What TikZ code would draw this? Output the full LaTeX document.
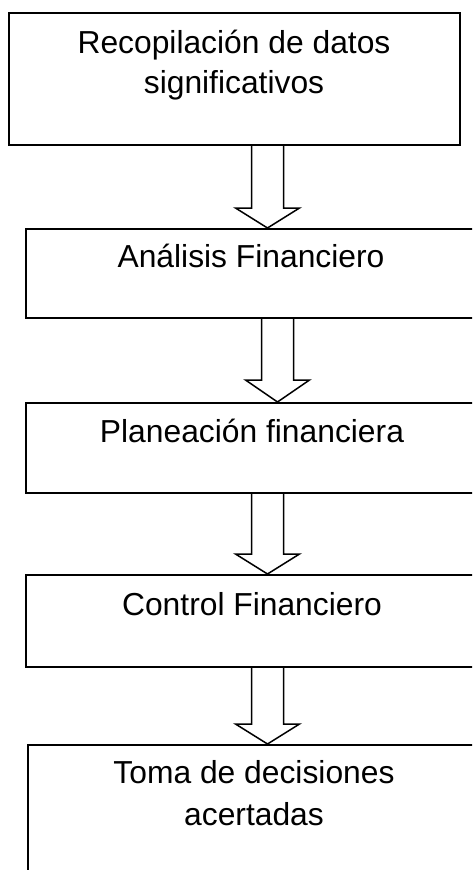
\documentclass[tikz,border=0pt]{standalone}
\usepackage{fontspec}
\setmainfont{Liberation Sans}
\usetikzlibrary{calc}
\begin{document}
\begin{tikzpicture}[x=1pt,y=-1pt,
  box/.style={draw, line width=1.5pt, inner sep=0pt, anchor=north west},
  lbl/.style={inner sep=0pt, align=center},
  blk/.style={draw, line width=1.5pt, line join=miter}]
\useasboundingbox (0,0) rectangle (472,870);
\clip (0,0) rectangle (472,870);
% boxes
\node[box, minimum width=451, minimum height=132] (b1) at (8,12) {};
\node[box, minimum width=475, minimum height=89] (b2) at (25,228) {};
\node[box, minimum width=475, minimum height=90] (b3) at (25,402) {};
\node[box, minimum width=475, minimum height=92] (b4) at (25,574) {};
\node[box, minimum width=473, minimum height=160] (b5) at (27,744) {};
% texts
\node[lbl, anchor=north, font=\fontsize{31.8}{40}\selectfont] (t1) at (234,29.5) {Recopilación de datos\\significativos};
\node[lbl, anchor=base, font=\fontsize{31.8}{40}\selectfont] (t2) at (251,267) {Análisis Financiero};
\node[lbl, anchor=base, font=\fontsize{31.8}{40}\selectfont] (t3) at (252,442) {Planeación financiera};
\node[lbl, anchor=base, font=\fontsize{31.8}{40}\selectfont] (t4) at (252,615) {Control Financiero};
\node[lbl, anchor=north, font=\fontsize{31.8}{42}\selectfont] (t5) at (254,760.5) {Toma de decisiones\\acertadas};
% block arrows
\draw[blk] (251.5,0 |- b1.south) -- ($(251.5,0 |- b2.north)+(0,-20)$) -- ($(235.5,0 |- b2.north)+(0,-20)$) -- (267.5,0 |- b2.north) -- ($(299.5,0 |- b2.north)+(0,-20)$) -- ($(283.5,0 |- b2.north)+(0,-20)$) -- (283.5,0 |- b1.south);
\draw[blk] (261.5,0 |- b2.south) -- ($(261.5,0 |- b3.north)+(0,-22)$) -- ($(245.5,0 |- b3.north)+(0,-22)$) -- (277.5,0 |- b3.north) -- ($(309.5,0 |- b3.north)+(0,-22)$) -- ($(293.5,0 |- b3.north)+(0,-22)$) -- (293.5,0 |- b2.south);
\draw[blk] (251.5,0 |- b3.south) -- ($(251.5,0 |- b4.north)+(0,-20)$) -- ($(235.5,0 |- b4.north)+(0,-20)$) -- (267.5,0 |- b4.north) -- ($(299.5,0 |- b4.north)+(0,-20)$) -- ($(283.5,0 |- b4.north)+(0,-20)$) -- (283.5,0 |- b3.south);
\draw[blk] (251.5,0 |- b4.south) -- ($(251.5,0 |- b5.north)+(0,-20)$) -- ($(235.5,0 |- b5.north)+(0,-20)$) -- (267.5,0 |- b5.north) -- ($(299.5,0 |- b5.north)+(0,-20)$) -- ($(283.5,0 |- b5.north)+(0,-20)$) -- (283.5,0 |- b4.south);
\end{tikzpicture}
\end{document}
